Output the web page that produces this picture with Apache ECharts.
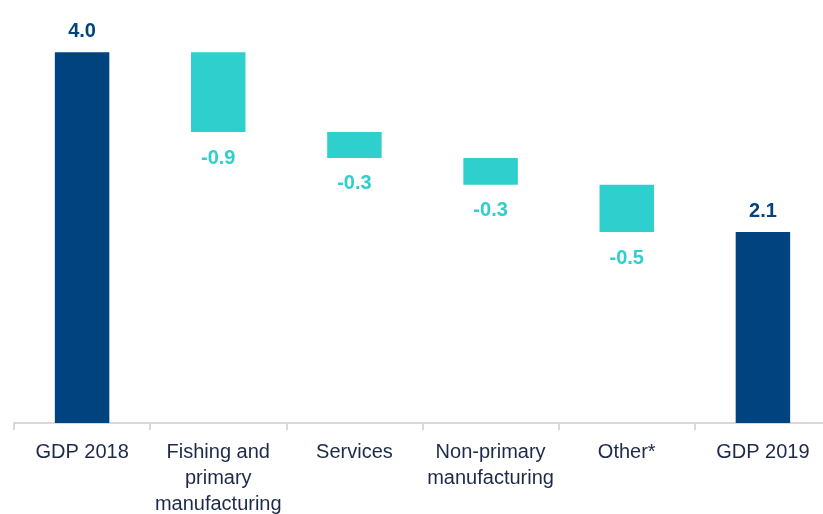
<!DOCTYPE html>
<html>
<head>
<meta charset="utf-8">
<script src="https://cdn.jsdelivr.net/npm/echarts@6/dist/echarts.min.js"></script>
<style>
  html, body { margin: 0; padding: 0; background: #fff; }
  #chart { width: 823px; height: 514px; }
</style>
</head>
<body>
<div id="chart"></div>
<script>
// GDP growth waterfall data
let categories = ['GDP 2018', 'Fishing and\nprimary\nmanufacturing', 'Services', 'Non-primary\nmanufacturing', 'Other*', 'GDP 2019']
let values = [4.0, -0.86, -0.28, -0.29, -0.51, 2.06]
let isTotal = [true, false, false, false, false, true]

let navy = '#00437f'
let teal = '#2ecfcd'

// build invisible base + visible bar for the waterfall
let baseData = []
let barData = []
let running = 0
for (let i = 0, len = values.length; i < len; i++) {
    if (isTotal[i]) {
        baseData.push(0)
        barData.push({
            value: values[i],
            itemStyle: { color: navy },
            label: { position: 'top', distance: 11, color: navy }
        })
        running = values[i]
    } else {
        running = running + values[i]
        baseData.push(running)
        barData.push({
            value: -values[i],
            itemStyle: { color: teal },
            label: { position: 'bottom', distance: 16, color: teal }
        })
    }
}

let chart = echarts.init(document.getElementById('chart'))
let option = {
    animation: false,
    grid: {
        left: 14,
        width: 817,
        top: 6,
        bottom: 91,
        outerBoundsMode: 'none',
        containLabel: false
    },
    xAxis: {
        type: 'category',
        data: categories,
        axisLine: { lineStyle: { color: '#d9d9d9', width: 2 } },
        axisTick: { show: true, length: 7, lineStyle: { color: '#d9d9d9', width: 2 } },
        axisLabel: {
            interval: 0,
            margin: 16,
            fontFamily: 'Liberation Sans, Arial, sans-serif',
            fontSize: 20,
            lineHeight: 26,
            color: '#1c2a48'
        }
    },
    yAxis: {
        type: 'value',
        show: false,
        min: 0,
        max: 4.5,
        splitLine: { show: false }
    },
    series: [
        {
            name: 'base',
            type: 'bar',
            stack: 'gdp',
            barWidth: '40%',
            itemStyle: { color: 'transparent' },
            data: baseData,
            silent: true
        },
        {
            name: 'change',
            type: 'bar',
            stack: 'gdp',
            barWidth: '40%',
            data: barData,
            label: {
                show: true,
                fontFamily: 'Liberation Sans, Arial, sans-serif',
                fontSize: 20,
                fontWeight: 'bold',
                formatter: function (p) {
                    let v = values[p.dataIndex]
                    return (Math.round(v * 10) / 10).toFixed(1)
                }
            }
        }
    ]
}
chart.setOption(option)
</script>
</body>
</html>
